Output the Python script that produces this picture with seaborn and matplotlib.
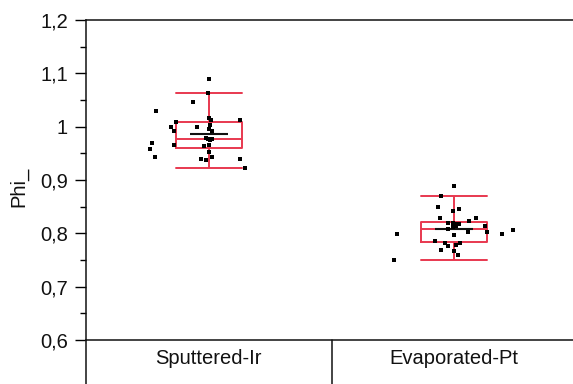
import numpy as np
import pandas as pd
import matplotlib
matplotlib.use("Agg")
import matplotlib.pyplot as plt
import matplotlib.transforms as mtransforms
import seaborn as sns

# ---- data ----
categories = ["Sputtered-Ir", "Evaporated-Pt"]

ir_values = [1.0894, 1.063, 1.0463, 1.0294, 1.016, 1.0125, 1.0125, 1.0095,
             1.000, 1.000, 1.003, 0.9925, 0.996, 0.9925, 0.978, 0.977,
             0.976, 0.975, 0.970, 0.966, 0.966, 0.9635, 0.959, 0.953,
             0.943, 0.940, 0.937, 0.943, 0.940, 0.923]
ir_offsets = [0.002, -0.002, -0.066, -0.213, 0.003, 0.008, 0.128, -0.133,
              -0.152, -0.046, 0.007, -0.141, -0.001, 0.014, -0.012, -0.004,
              0.015, 0.004, -0.232, -0.141, 0.000, -0.018, -0.239, 0.002,
              -0.218, -0.033, -0.012, 0.015, 0.128, 0.148]

pt_values = [0.8893, 0.870, 0.850, 0.8425, 0.846, 0.8294, 0.8294, 0.8203,
             0.8203, 0.823, 0.817, 0.817, 0.8137, 0.8137, 0.811, 0.809,
             0.803, 0.802, 0.7994, 0.7994, 0.806, 0.797, 0.785, 0.781,
             0.7815, 0.7787, 0.7756, 0.7694, 0.766, 0.759, 0.7494]
pt_offsets = [0.001, -0.053, -0.066, -0.007, 0.020, -0.060, 0.088, -0.026,
              -0.005, 0.061, 0.003, 0.020, 0.009, 0.126, -0.004, -0.026,
              0.134, 0.054, -0.232, 0.194, 0.240, 0.000, -0.079, 0.022,
              -0.039, 0.007, -0.024, -0.053, 0.000, 0.015, -0.245]

y_ticks = [0.6, 0.7, 0.8, 0.9, 1.0, 1.1, 1.2]
y_ticklabels = ["0,6", "0,7", "0,8", "0,9", "1", "1,1", "1,2"]
y_label = "Phi_"

# ---- build table ----
df = pd.DataFrame({
    "group": [categories[0]] * len(ir_values) + [categories[1]] * len(pt_values),
    "phi": ir_values + pt_values,
    "offset": ir_offsets + pt_offsets,
})
df["xpos"] = df["group"].map({c: i for i, c in enumerate(categories)}) + df["offset"]

sns.set_theme(style="white")
plt.rcParams["font.family"] = ["Liberation Sans", "DejaVu Sans"]

W, H = 573, 384
fig = plt.figure(figsize=(W / 100, H / 100), dpi=100)
left, right, top, bottom = 86, 577, 20, 340
ax = fig.add_axes([left / W, (H - bottom) / H, (right - left) / W, (bottom - top) / H])

red = "#e8384f"
box_w = 0.27
sns.boxplot(data=df, x="group", y="phi", order=categories, ax=ax,
            width=box_w, whis=1.5, showfliers=False, fill=False,
            color=red, linecolor=red, linewidth=1.4,
            showmeans=True, meanline=False,
            meanprops=dict(marker="_", markersize=27, markeredgecolor="#111111",
                           markeredgewidth=1.5),
            capwidths=box_w)

ax.scatter(df["xpos"], df["phi"], marker="s", s=10, color="black",
           linewidths=0, zorder=5)

ax.set_xlim(-0.5, 1.5)
ax.set_ylim(0.6, 1.2)
ax.set_yticks(y_ticks)
ax.set_yticklabels(y_ticklabels)
ax.set_yticks([0.65, 0.75, 0.85, 0.95, 1.05, 1.15], minor=True)
ax.tick_params(axis="y", which="major", direction="out", length=8, width=1,
               color="black", labelsize=14.5, pad=5, left=True)
ax.tick_params(axis="y", which="minor", direction="out", length=4, width=1,
               color="black", left=True)
ax.tick_params(axis="x", length=0, labelsize=14.5, pad=6.5)
for t in ax.get_xticklabels() + ax.get_yticklabels():
    t.set_color("#111111")

ax.set_xlabel("")
ax.set_ylabel(y_label, fontsize=14.5, color="#111111")
ax.yaxis.set_label_coords(-0.118, 0.478)

for s in ["left", "top", "bottom"]:
    ax.spines[s].set_visible(True)
    ax.spines[s].set_color("#111111")
    ax.spines[s].set_linewidth(1.1)
ax.spines["right"].set_visible(False)

# table-like category row below the plot
depth = (H - bottom) / (bottom - top)
ax.plot([0, 0], [0, -depth], transform=ax.transAxes, clip_on=False,
        color="#111111", lw=1.1)
trans = mtransforms.blended_transform_factory(ax.transData, ax.transAxes)
ax.plot([0.5, 0.5], [0, -depth], transform=trans, clip_on=False,
        color="#111111", lw=1.1)

fig.savefig("out.png", dpi=100)
